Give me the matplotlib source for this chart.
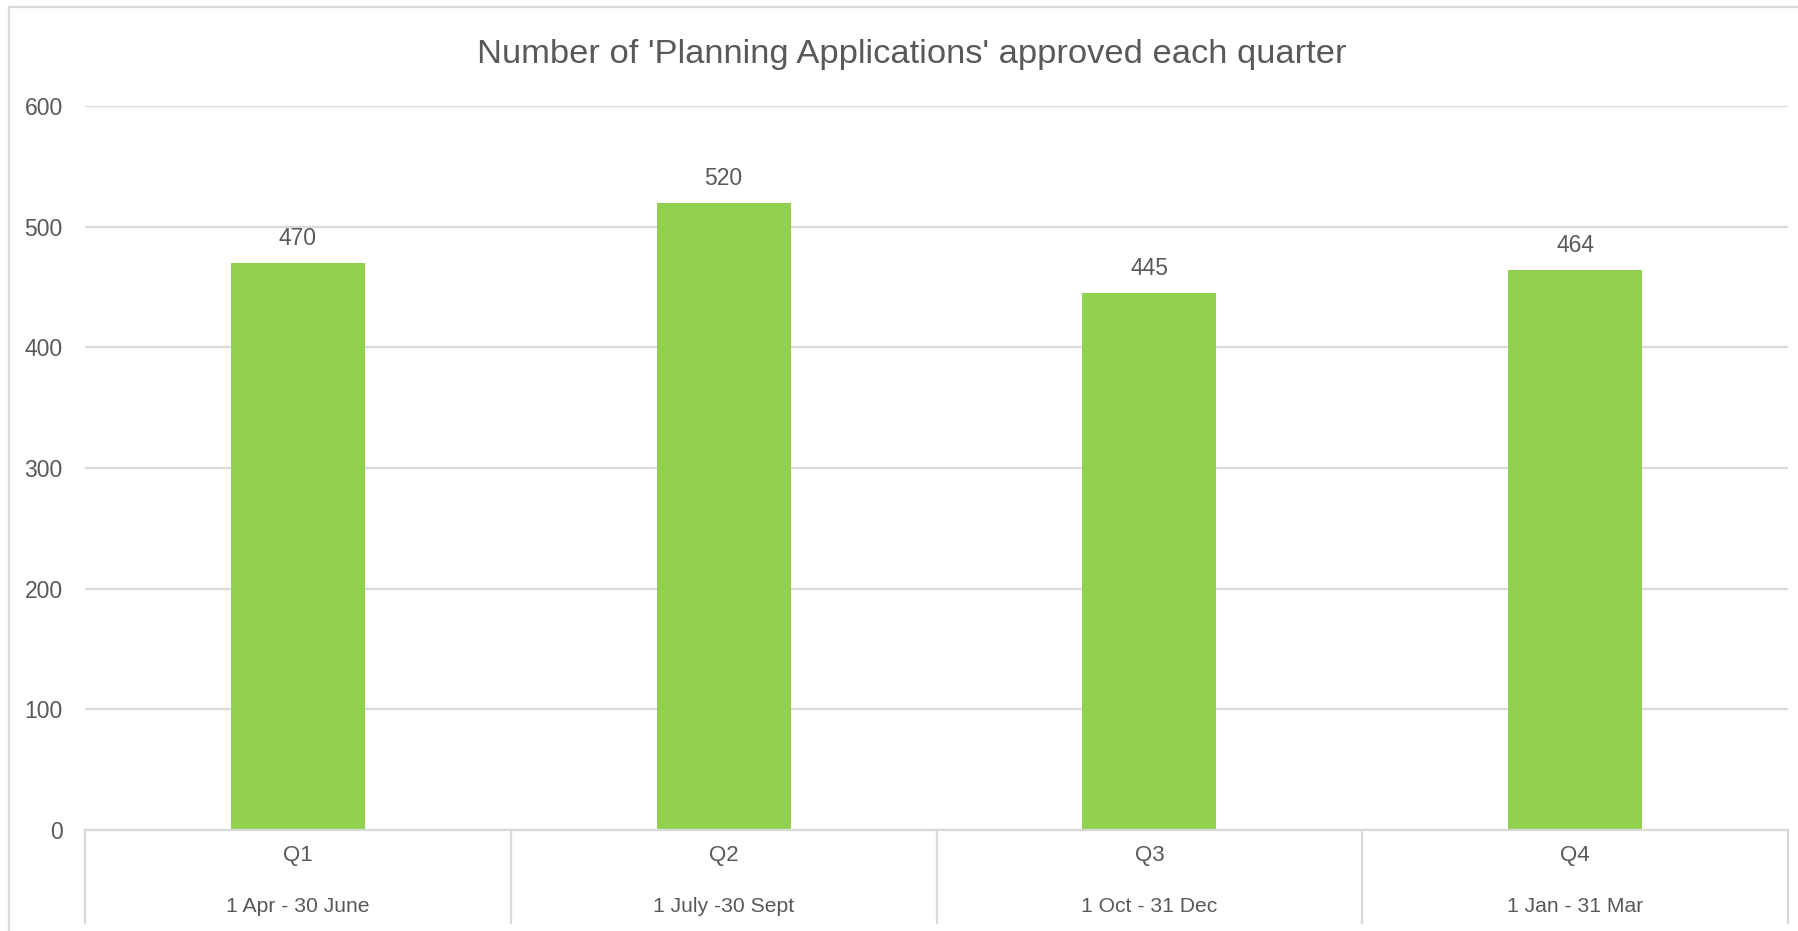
import matplotlib
matplotlib.use("Agg")
import matplotlib.pyplot as plt
from matplotlib.lines import Line2D

categories = ["Q1", "Q2", "Q3", "Q4"]
periods = ["1 Apr - 30 June", "1 July -30 Sept", "1 Oct - 31 Dec", "1 Jan - 31 Mar"]
values = [470, 520, 445, 464]
yticks = [0, 100, 200, 300, 400, 500, 600]
title = "Number of 'Planning Applications' approved each quarter"

plt.rcParams['font.family'] = ["Liberation Sans", 'DejaVu Sans']

W, H = 1798, 931
DPI = 100
fig = plt.figure(figsize=(W / DPI, H / DPI), dpi=DPI)
fig.patch.set_facecolor("white")

TXT = "#595959"
GRID = "#D9D9D9"
GREEN = "#92D050"

L, R, T, B = 85, 1788, 106, 830
ax = fig.add_axes([L / W, 1 - B / H, (R - L) / W, (B - T) / H])
ax.set_xlim(-0.5, len(categories) - 0.5)
ax.set_ylim(0, 600)
x = list(range(len(categories)))
ax.bar(x, values, width=0.315, color=GREEN, zorder=3)
for xi, v in zip(x, values):
    ax.annotate(str(v), (xi, v), xytext=(0, 13), textcoords="offset pixels",
                ha="center", va="bottom", fontsize=16.5, color=TXT)

ax.set_yticks(yticks)
ax.set_yticklabels([str(t) for t in yticks], fontsize=16.5, color=TXT)
ax.tick_params(axis="y", length=0, pad=16)
ax.set_xticks([])
ax.grid(axis="y", color=GRID, linewidth=1.6, zorder=0)
for s in ["top", "right", "left"]:
    ax.spines[s].set_visible(False)
ax.spines["bottom"].set_color(GRID)
ax.spines["bottom"].set_linewidth(1.6)
ax.spines["bottom"].set_zorder(4)

# category table below axis
trans = ax.get_xaxis_transform()
sep_bottom = -(923 - 830) / (B - T)
for k in range(len(categories) + 1):
    ax.add_line(Line2D([k - 0.5, k - 0.5], [0, sep_bottom], transform=trans,
                       color=GRID, linewidth=1.6, clip_on=False))
for xi, c, p in zip(x, categories, periods):
    ax.text(xi, -(856 - 830) / (B - T), c, transform=trans, ha="center", va="center",
            fontsize=16, color=TXT)
    ax.text(xi, -(907 - 830) / (B - T), p, transform=trans, ha="center", va="center",
            fontsize=15.2, color=TXT)

fig.text(912 / W, 1 - 54 / H, title, ha="center", va="center", fontsize=24.8, color=TXT)

# outer chart border (left and top visible)
fig.add_artist(Line2D([9 / W, 9 / W], [0, 1 - 7 / H], transform=fig.transFigure,
                      color=GRID, linewidth=1.6))
fig.add_artist(Line2D([9 / W, 1], [1 - 7 / H, 1 - 7 / H], transform=fig.transFigure,
                      color=GRID, linewidth=1.6))

fig.savefig("out.png", dpi=DPI, facecolor="white")
